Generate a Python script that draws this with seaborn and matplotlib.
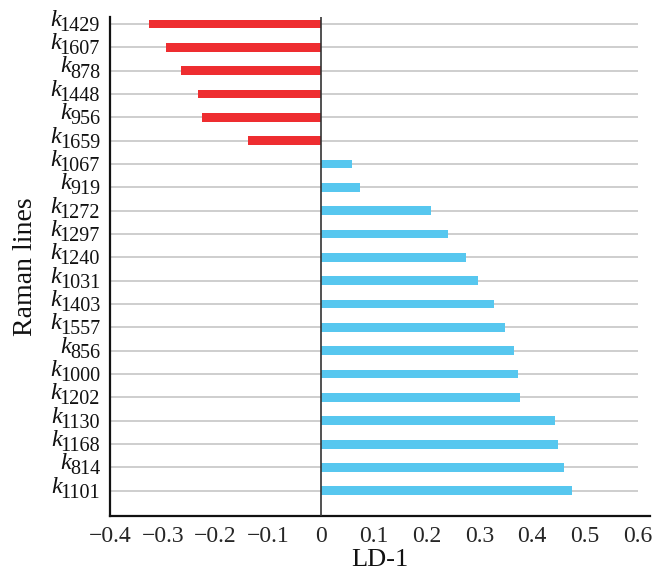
import numpy as np
import pandas as pd
import matplotlib
matplotlib.use('Agg')
import matplotlib.pyplot as plt
import seaborn as sns
from matplotlib.transforms import offset_copy

# =========================
# DATA
# =========================
line_ids = ['1429', '1607', '878', '1448', '956', '1659', '1067', '919',
            '1272', '1297', '1240', '1031', '1403', '1557', '856', '1000',
            '1202', '1130', '1168', '814', '1101']
ld1 = [-0.326, -0.293, -0.266, -0.233, -0.226, -0.139, 0.059, 0.073,
       0.209, 0.240, 0.274, 0.298, 0.327, 0.349, 0.366, 0.373,
       0.377, 0.4435, 0.449, 0.461, 0.4745]
x_ticks = [-0.4, -0.3, -0.2, -0.1, 0, 0.1, 0.2, 0.3, 0.4, 0.5, 0.6]
x_tick_labels = ['\u22120.4', '\u22120.3', '\u22120.2', '\u22120.1', '0',
                 '0.1', '0.2', '0.3', '0.4', '0.5', '0.6']

df = pd.DataFrame({'line': line_ids, 'ld1': ld1})
df['sign'] = np.where(df['ld1'] < 0, 'neg', 'pos')

# =========================
# STYLE
# =========================
sns.set_style('white')
plt.rcParams['font.family'] = ['Liberation Serif', 'DejaVu Serif']

fig = plt.figure(figsize=(6.58, 5.75), dpi=100)
ax = fig.add_axes([0.1672, 0.1031, 0.8206, 0.8673])

n = len(line_ids)
ax.hlines(range(n), x_ticks[0], x_ticks[-1], color='#cacaca', lw=1.3, zorder=0)

sns.barplot(
    data=df, x='ld1', y='line', hue='sign', order=line_ids,
    palette={'neg': '#ee2d30', 'pos': '#57c7ef'},
    width=0.38, dodge=False, legend=False, saturation=1,
    linewidth=0, ax=ax, zorder=2
)

ax.axvline(0, color='#333333', lw=1.2, zorder=3)

ax.set_xlim(-0.4, 0.623)
ax.set_ylim(n + 0.07, -0.3)

ax.set_xticks(x_ticks)
ax.set_xticklabels(x_tick_labels)
ax.set_yticks(range(n))
ax.tick_params(axis='x', direction='in', length=7, width=1.5,
               labelsize=17, pad=7.5, color='#111111')
ax.tick_params(axis='y', direction='in', length=7, width=1.5,
               labelleft=False, color='#111111')

sns.despine(ax=ax)
for side in ['left', 'bottom']:
    ax.spines[side].set_linewidth(1.6)
    ax.spines[side].set_color('#111111')

# y labels: italic k with subscript line number
trans = offset_copy(ax.get_yaxis_transform(), fig=fig, x=-10, y=-2.5, units='dots')
for i, lab in enumerate(line_ids):
    t = ax.text(0, i, lab, transform=trans, ha='right', va='center',
                fontsize=14.5, color='#111111')
    ax.annotate('k', xy=(0, 0.5), xycoords=t, xytext=(1, 0.5),
                textcoords='offset points', ha='right', va='baseline',
                fontsize=17.5, style='italic', color='#111111')

ax.set_xlabel('LD-1', fontsize=19, labelpad=1.5, color='#111111')
ax.set_ylabel('Raman lines', fontsize=20, color='#111111')
ax.yaxis.set_label_coords(-0.133, 0.5)

fig.savefig('out.png', dpi=100)
